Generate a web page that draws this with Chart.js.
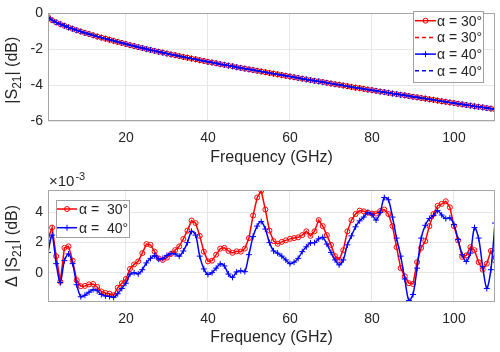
<!DOCTYPE html>
<html>
<head>
<meta charset="utf-8">
<script src="https://cdn.jsdelivr.net/npm/chart.js@4.4.0/dist/chart.umd.min.js"></script>
<style>
  body { margin: 0; background: #ffffff; }
  canvas { display: block; }
</style>
</head>
<body>
<canvas id="s21Chart" width="500" height="168"></canvas>
<canvas id="deltaChart" width="500" height="184"></canvas>
<script>
// frequency points (GHz)
const freq = [
  1, 2, 3, 4, 5, 6, 7, 8, 9, 10, 11, 12, 13, 14, 15, 16, 17, 18, 19, 20,
  21, 22, 23, 24, 25, 26, 27, 28, 29, 30, 31, 32, 33, 34, 35, 36, 37, 38, 39, 40,
  41, 42, 43, 44, 45, 46, 47, 48, 49, 50, 51, 52, 53, 54, 55, 56, 57, 58, 59, 60,
  61, 62, 63, 64, 65, 66, 67, 68, 69, 70, 71, 72, 73, 74, 75, 76, 77, 78, 79, 80,
  81, 82, 83, 84, 85, 86, 87, 88, 89, 90, 91, 92, 93, 94, 95, 96, 97, 98, 99, 100,
  101, 102, 103, 104, 105, 106, 107, 108, 109, 110
];

// |S21| in dB (both angles look the same at this scale)
const s21 = [
  -0.20, -0.38, -0.50, -0.60, -0.69, -0.78, -0.86, -0.94, -1.01, -1.09,
  -1.15, -1.22, -1.29, -1.35, -1.41, -1.47, -1.53, -1.59, -1.65, -1.71,
  -1.77, -1.82, -1.88, -1.93, -1.99, -2.04, -2.09, -2.14, -2.19, -2.24,
  -2.29, -2.33, -2.38, -2.43, -2.47, -2.52, -2.56, -2.61, -2.65, -2.70,
  -2.74, -2.78, -2.83, -2.87, -2.91, -2.95, -3.00, -3.04, -3.08, -3.12,
  -3.16, -3.20, -3.24, -3.28, -3.32, -3.36, -3.40, -3.44, -3.48, -3.52,
  -3.56, -3.60, -3.64, -3.68, -3.72, -3.76, -3.79, -3.83, -3.87, -3.91,
  -3.95, -3.98, -4.02, -4.06, -4.10, -4.14, -4.17, -4.21, -4.25, -4.28,
  -4.32, -4.36, -4.39, -4.43, -4.47, -4.50, -4.54, -4.57, -4.61, -4.65,
  -4.68, -4.72, -4.75, -4.79, -4.82, -4.86, -4.90, -4.93, -4.97, -5.00,
  -5.04, -5.07, -5.11, -5.14, -5.18, -5.21, -5.24, -5.28, -5.31, -5.35
];

// delta |S21| (x 1e-3 dB)
const d30 = [
  2.25, 3.0, 1.1, -0.6, 1.65, 1.75, 0.8, -0.5, -0.9, -0.88,
  -0.78, -0.75, -0.95, -1.25, -1.35, -1.4, -1.5, -1.0, -0.7, -0.42,
  0.25, 0.55, 0.75, 1.3, 1.9, 1.85, 1.4, 0.95, 0.85, 1.0,
  1.25, 1.5, 1.75, 2.24, 2.8, 3.47, 3.3, 2.45, 1.4, 0.75,
  0.8, 1.2, 1.6, 1.65, 1.45, 1.32, 1.42, 1.4, 1.6, 2.3,
  3.8, 5.0, 5.45, 4.2, 2.8, 2.1, 1.92, 2.05, 2.15, 2.25,
  2.3, 2.35, 2.5, 2.75, 2.45, 2.75, 3.5, 3.1, 2.5, 1.85,
  1.1, 0.85, 1.5, 2.75, 3.5, 3.9, 4.13, 4.08, 4.0, 3.93,
  3.93, 4.1, 4.2, 3.9, 3.1, 1.7, 0.3, -0.24, -0.7, -0.75,
  0.7, 1.65, 2.1, 3.1, 3.9, 4.45, 4.58, 4.75, 4.35, 3.1,
  2.15, 1.05, 1.15, 1.7, 1.5, 0.7, 0.2, 0.6, 1.45, 0.8
];
const d40 = [
  1.35, 2.5, 0.6, -0.65, 0.8, 1.25, 0.6, -0.8, -1.6, -1.5,
  -1.3, -1.13, -1.2, -1.45, -1.55, -1.58, -1.64, -1.4, -1.05, -0.7,
  -0.1, 0.0, -0.08, 0.2, 0.65, 0.95, 1.13, 0.9, 0.95, 1.15,
  1.27, 1.25, 1.1, 1.44, 2.0, 2.75, 2.5, 1.1, 0.25, -0.12,
  0.0, 0.3, 0.58, 0.45, -0.09, -0.31, 0.05, 0.13, 0.07, 1.2,
  2.4, 3.1, 3.4, 2.9, 2.0, 1.45, 1.3, 1.1, 0.85, 0.6,
  0.7, 0.95, 1.4, 1.72, 1.98, 2.0, 2.25, 2.35, 1.9, 1.35,
  0.85, 0.52, 0.85, 1.85, 2.45, 3.05, 3.45, 3.7, 4.0, 3.85,
  3.5, 4.0, 5.0, 4.85, 3.7, 2.3, 1.1, -0.42, -1.85, -1.45,
  0.3, 2.3, 3.15, 3.6, 3.8, 4.13, 3.84, 3.6, 3.64, 3.2,
  2.2, 1.2, 0.75, 1.3, 3.0, 2.3, 0.4, -1.05, 0.2, 3.3
];

const xTicks = [20, 40, 60, 80, 100];
const s21Ticks = [-6, -4, -2, 0];
const deltaTicks = [0, 2, 4];
const labels30 = 'α = 30°';
const labels40 = 'α = 40°';

const RED = 'rgb(255,0,0)';
const BLUE = 'rgb(0,0,255)';
const TEXT = '#262626';
const FONT = '"Liberation Sans", Arial, sans-serif';

Chart.defaults.font.family = FONT;
Chart.defaults.color = TEXT;

function pts(ys) {
  return freq.map((f, i) => ({ x: f, y: ys[i] }));
}

// grey box around the plot area, like matlab's "box on"
const axisBox = {
  id: 'axisBox',
  afterDatasetsDraw(chart) {
    const a = chart.chartArea;
    const ctx = chart.ctx;
    ctx.save();
    ctx.strokeStyle = '#a6a6a6';
    ctx.lineWidth = 1;
    ctx.strokeRect(Math.round(a.left) + 0.5, Math.round(a.top) + 0.5,
      Math.round(a.right - a.left) - 1, Math.round(a.bottom - a.top) - 1);
    ctx.restore();
  }
};

// rotated y label with a real subscript: [prefix, sub, suffix]
const yLabel = {
  id: 'yLabel',
  afterDraw(chart, args, o) {
    const a = chart.chartArea;
    const ctx = chart.ctx;
    ctx.save();
    ctx.fillStyle = TEXT;
    ctx.textBaseline = 'middle';
    ctx.textAlign = 'left';
    const big = '16px ' + FONT, small = '12px ' + FONT;
    ctx.font = big;
    const w1 = ctx.measureText(o.parts[0]).width;
    const w3 = ctx.measureText(o.parts[2]).width;
    ctx.font = small;
    const w2 = ctx.measureText(o.parts[1]).width;
    const total = w1 + w2 + w3;
    ctx.translate(o.x, (a.top + a.bottom) / 2 + o.dy);
    ctx.rotate(-Math.PI / 2);
    let x = -total / 2;
    ctx.font = big;
    ctx.fillText(o.parts[0], x, 0);
    x += w1;
    ctx.font = small;
    ctx.fillText(o.parts[1], x, 5);
    x += w2;
    ctx.font = big;
    ctx.fillText(o.parts[2], x, 0);
    ctx.restore();
  }
};

function drawMarker(ctx, ds, x, y) {
  if (!ds.pointRadius) return;
  ctx.save();
  ctx.setLineDash([]);
  ctx.strokeStyle = ds.borderColor;
  ctx.lineWidth = 1;
  const r = ds.pointRadius;
  ctx.beginPath();
  if (ds.pointStyle === 'circle') {
    ctx.arc(x, y, r, 0, Math.PI * 2);
  } else {
    ctx.moveTo(x - r, y); ctx.lineTo(x + r, y);
    ctx.moveTo(x, y - r); ctx.lineTo(x, y + r);
  }
  ctx.stroke();
  ctx.restore();
}

// legend box drawn inside the axes
const legendBox = {
  id: 'legendBox',
  afterDraw(chart, args, o) {
    const ctx = chart.ctx;
    ctx.save();
    ctx.fillStyle = '#ffffff';
    ctx.fillRect(o.x, o.y, o.w, o.h);
    ctx.strokeStyle = '#a0a0a0';
    ctx.lineWidth = 1;
    ctx.strokeRect(o.x + 0.5, o.y + 0.5, o.w, o.h);
    chart.data.datasets.forEach((ds, i) => {
      const cy = o.y + o.first + i * o.step;
      ctx.save();
      ctx.strokeStyle = ds.borderColor;
      ctx.lineWidth = ds.borderWidth;
      ctx.setLineDash(ds.borderDash || []);
      ctx.beginPath();
      ctx.moveTo(o.lineX0, cy);
      ctx.lineTo(o.lineX1, cy);
      ctx.stroke();
      ctx.restore();
      drawMarker(ctx, ds, (o.lineX0 + o.lineX1) / 2, cy);
      ctx.fillStyle = TEXT;
      ctx.font = '14px ' + FONT;
      ctx.textBaseline = 'middle';
      ctx.textAlign = 'left';
      ctx.fillText(o.texts[i], o.textX, cy + 1);
    });
    ctx.restore();
  }
};

// "x10^-3" exponent label above the lower axes
const exponentLabel = {
  id: 'exponentLabel',
  afterDraw(chart) {
    const ctx = chart.ctx;
    ctx.save();
    ctx.fillStyle = TEXT;
    ctx.textBaseline = 'alphabetic';
    ctx.font = '15px ' + FONT;
    ctx.fillText('×10', 49, 18);
    const w = ctx.measureText('×10').width;
    ctx.font = '11px ' + FONT;
    ctx.fillText('-3', 49 + w + 1, 12);
    ctx.restore();
  }
};

function xScale(height, titleBottom) {
  return {
    type: 'linear',
    min: 1,
    max: 110,
    afterBuildTicks: s => { s.ticks = xTicks.map(v => ({ value: v })); },
    afterFit: s => { s.height = height; },
    grid: { color: '#e6e6e6', drawTicks: false },
    border: { display: false },
    ticks: { padding: 9, font: { size: 14 }, color: TEXT },
    title: {
      display: true, text: 'Frequency (GHz)',
      font: { size: 16 }, color: TEXT,
      padding: { top: 0, bottom: titleBottom }
    }
  };
}

const topCtx = document.getElementById('s21Chart').getContext('2d');
new Chart(topCtx, {
  type: 'line',
  data: {
    datasets: [
      {
        label: labels30, data: pts(s21), borderColor: RED, borderWidth: 1.5,
        pointStyle: 'circle', pointRadius: 2.5, pointBorderColor: RED,
        pointBackgroundColor: 'rgba(0,0,0,0)', pointBorderWidth: 1, order: 4
      },
      {
        label: labels30, data: pts(s21), borderColor: RED, borderWidth: 1.5,
        borderDash: [4, 3], pointRadius: 0, order: 3
      },
      {
        label: labels40, data: pts(s21), borderColor: BLUE, borderWidth: 1.5,
        pointStyle: 'cross', pointRadius: 3, pointBorderColor: BLUE,
        pointBorderWidth: 1, order: 2
      },
      {
        label: labels40, data: pts(s21), borderColor: BLUE, borderWidth: 1.5,
        borderDash: [4, 3], pointRadius: 0, order: 1
      }
    ]
  },
  options: {
    responsive: false,
    animation: false,
    layout: { padding: { left: 0, right: 5, top: 8, bottom: 0 } },
    scales: {
      x: xScale(47, 1),
      y: {
        min: -6, max: 0,
        afterBuildTicks: s => { s.ticks = s21Ticks.map(v => ({ value: v })); },
        afterFit: s => { s.width = 48; },
        grid: { color: '#e6e6e6', drawTicks: false },
        border: { display: false },
        ticks: { padding: 5, font: { size: 14 }, color: TEXT, callback: v => String(v) }
      }
    },
    plugins: {
      legend: { display: false },
      tooltip: { enabled: false },
      yLabel: { x: 13, dy: 3, parts: ['|S', '21', '| (dB)'] },
      legendBox: {
        x: 413, y: 11, w: 70, h: 71, first: 9.7, step: 16.7,
        lineX0: 415, lineX1: 436, textX: 437,
        texts: [labels30, labels30, labels40, labels40]
      }
    }
  },
  plugins: [axisBox, yLabel, legendBox]
});

const botCtx = document.getElementById('deltaChart').getContext('2d');
new Chart(botCtx, {
  type: 'line',
  data: {
    datasets: [
      {
        label: labels30, data: pts(d30), borderColor: RED, borderWidth: 1.5,
        pointStyle: 'circle', pointRadius: 2.5, pointBorderColor: RED,
        pointBackgroundColor: 'rgba(0,0,0,0)', pointBorderWidth: 1, order: 2
      },
      {
        label: labels40, data: pts(d40), borderColor: BLUE, borderWidth: 1.5,
        pointStyle: 'cross', pointRadius: 3, pointBorderColor: BLUE,
        pointBorderWidth: 1, tension: 0.3, order: 1
      }
    ]
  },
  options: {
    responsive: false,
    animation: false,
    layout: { padding: { left: 0, right: 5, top: 22, bottom: 0 } },
    scales: {
      x: xScale(50, 5),
      y: {
        min: -1.95, max: 5.5,
        afterBuildTicks: s => { s.ticks = deltaTicks.map(v => ({ value: v })); },
        afterFit: s => { s.width = 48; },
        grid: { color: '#e6e6e6', drawTicks: false },
        border: { display: false },
        ticks: { padding: 5, font: { size: 14 }, color: TEXT, callback: v => String(v) }
      }
    },
    plugins: {
      legend: { display: false },
      tooltip: { enabled: false },
      yLabel: { x: 13, dy: 0, parts: ['Δ |S', '21', '| (dB)'] },
      legendBox: {
        x: 56, y: 32, w: 73, h: 37, first: 9, step: 18.7,
        lineX0: 57, lineX1: 77, textX: 79,
        texts: ['α =  30°', 'α =  40°']
      }
    }
  },
  plugins: [axisBox, yLabel, legendBox, exponentLabel]
});
</script>
</body>
</html>
